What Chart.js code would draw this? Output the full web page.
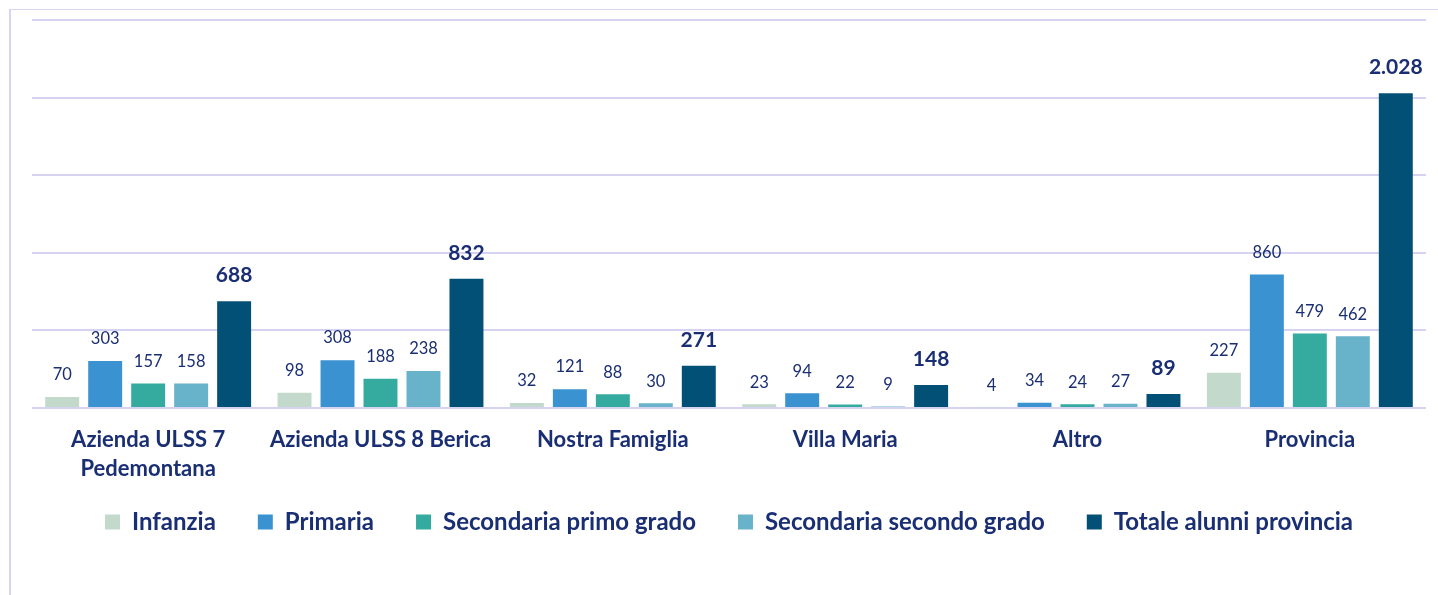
<!DOCTYPE html>
<html>
<head>
<meta charset="utf-8">
<script src="https://cdn.jsdelivr.net/npm/chart.js@4.4.1/dist/chart.umd.min.js"></script>
<style>
    html, body { margin: 0; padding: 0; background: #ffffff; }
    #frame {
        position: absolute; left: 9px; top: 9px; right: 0; bottom: 0;
        border-left: 2px solid #d9d5f1; border-top: 1px solid #d9d5f1;
    }
    #wrap { position: absolute; left: 0; top: 0; width: 1438px; height: 595px; }
</style>
</head>
<body>
<div id="frame"></div>
<div id="wrap"><canvas id="chart"></canvas></div>
<script>
const categories = [
    ['Azienda ULSS 7', 'Pedemontana'],
    'Azienda ULSS 8 Berica',
    'Nostra Famiglia',
    'Villa Maria',
    'Altro',
    'Provincia'
];
const infanzia = [70, 98, 32, 23, 4, 227];
const primaria = [303, 308, 121, 94, 34, 860];
const secondariaPrimo = [157, 188, 88, 22, 24, 479];
const secondariaSecondo = [158, 238, 30, 9, 27, 462];
const totale = [688, 832, 271, 148, 89, 2028];

const navy = '#1a2e73';
const fontFamily = 'Lato, "Open Sans", sans-serif';
const legendFont = 24;
const legendPad = 42;

function formatIt(v) {
    return String(v).replace(/\B(?=(\d{3})+(?!\d))/g, '.');
}

// draws the value above each bar, totals in bold
const valueLabels = {
    id: 'valueLabels',
    afterDatasetsDraw(chart) {
        const ctx = chart.ctx;
        ctx.save();
        ctx.fillStyle = navy;
        ctx.textAlign = 'center';
        ctx.textBaseline = 'middle';
        chart.data.datasets.forEach((ds, i) => {
            const meta = chart.getDatasetMeta(i);
            const bold = ds.label.startsWith('Totale');
            ctx.font = bold ? `bold 21px ${fontFamily}` : `16.5px ${fontFamily}`;
            meta.data.forEach((bar, j) => {
                ctx.fillText(formatIt(ds.data[j]), bar.x, bar.y - (bold ? 26 : 22));
            });
        });
        ctx.restore();
    }
};

// move the legend row up to where the original has it
const legendShift = {
    id: 'legendShift',
    afterLayout(chart) {
        const lg = chart.legend;
        if (!lg) return;
        const h = lg.height;
        lg.top = 522 - legendPad - legendFont / 2;
        lg.bottom = lg.top + h;
    }
};

const datasets = [
    { label: 'Infanzia', data: infanzia, backgroundColor: '#c2d9cb' },
    { label: 'Primaria', data: primaria, backgroundColor: '#3a92d0' },
    { label: 'Secondaria primo grado', data: secondariaPrimo, backgroundColor: '#35aa9f' },
    { label: 'Secondaria secondo grado', data: secondariaSecondo, backgroundColor: '#68b2ca' },
    { label: 'Totale alunni provincia', data: totale, backgroundColor: '#025076' }
].map(ds => ({ ...ds, categoryPercentage: 0.925, barPercentage: 0.79 }));

new Chart(document.getElementById('chart'), {
    type: 'bar',
    data: { labels: categories, datasets },
    plugins: [valueLabels, legendShift],
    options: {
        responsive: true,
        maintainAspectRatio: false,
        animation: false,
        layout: { padding: { left: 32, right: 12, top: 20, bottom: 19 } },
        scales: {
            x: {
                grid: { display: false, drawTicks: false },
                border: { display: false },
                ticks: {
                    color: navy,
                    padding: 17,
                    maxRotation: 0,
                    autoSkip: false,
                    font: { family: fontFamily, size: 22, weight: 'bold', lineHeight: 1.32 }
                }
            },
            y: {
                min: 0,
                max: 2500,
                ticks: { display: false, stepSize: 500 },
                grid: { color: '#d6d2f1', lineWidth: 2, drawTicks: false },
                border: { display: false }
            }
        },
        plugins: {
            legend: {
                position: 'bottom',
                labels: {
                    color: navy,
                    boxWidth: 15,
                    boxHeight: 15,
                    padding: legendPad,
                    font: { family: fontFamily, size: legendFont, weight: 'bold' }
                }
            },
            tooltip: { enabled: false }
        }
    }
});
</script>
</body>
</html>
